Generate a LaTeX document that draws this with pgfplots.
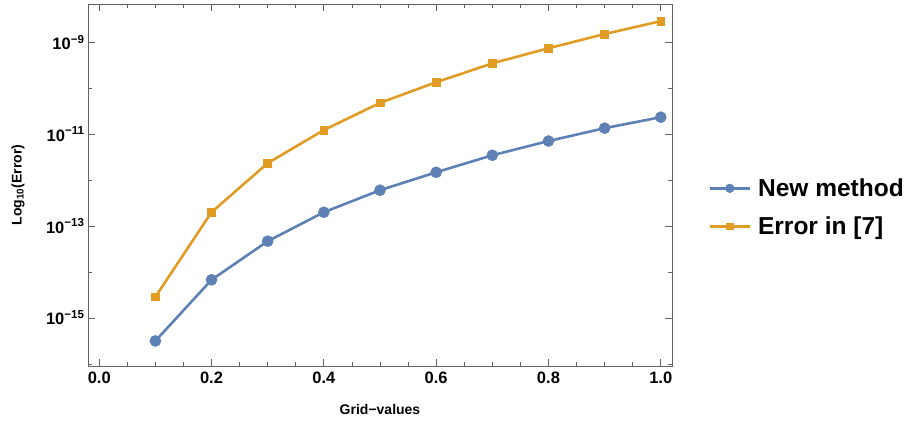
\documentclass[border=0pt]{standalone}
\usepackage{pgfplots}
\pgfplotsset{compat=1.18}
\usepackage{fontspec}
\setmainfont{Liberation Sans}
\definecolor{mblue}{RGB}{94,129,181}
\definecolor{morange}{RGB}{225,156,36}
\definecolor{mframe}{RGB}{100,100,100}
\pgfplotsset{
  mylegend/.style={legend image code/.code={\draw[mark repeat=2, mark phase=2, ##1] plot coordinates {(0pt,0pt) (20pt,0pt) (40pt,0pt)};}}
}
\begin{document}
\begin{tikzpicture}
\useasboundingbox (-88pt,-59pt) rectangle (821pt,366pt);
\begin{axis}[
  at={(0pt,0pt)}, anchor=south west,
  scale only axis, width=584pt, height=362pt,
  xmin=-0.02, xmax=1.02,
  ymode=log, ymin=9.0e-17, ymax=6.8e-9,
  axis line style={mframe, line width=0.8pt},
  every tick/.style={mframe, line width=0.8pt},
  tick align=inside,
  xtick={0,0.2,0.4,0.6,0.8,1.0},
  xticklabels={0.0,0.2,0.4,0.6,0.8,1.0},
  minor xtick={0.05,0.1,0.15,0.25,0.3,0.35,0.45,0.5,0.55,0.65,0.7,0.75,0.85,0.9,0.95},
  ytick={1e-15,1e-13,1e-11,1e-9},
  yticklabels={10\textsuperscript{−15},10\textsuperscript{−13},10\textsuperscript{−11},10\textsuperscript{−9}},
  minor ytick={1e-16,1e-14,1e-12,1e-10},
  major tick length=7pt, minor tick length=4pt,
  tick label style={font=\bfseries\fontsize{16.5}{18}\selectfont, black},
  xticklabel style={yshift=-2pt},
  xlabel={\bfseries Grid−values},
  ylabel={\bfseries Log\textsubscript{10}(Error)},
  label style={font=\fontsize{14}{16}\selectfont},
  xlabel style={at={(axis description cs:0.5,-0.1215)}, anchor=center},
  ylabel style={at={(axis description cs:-0.12,0.5)}, anchor=center},
  legend style={at={(1.057,0.438)}, anchor=west, draw=none, fill=none,
    font=\bfseries\fontsize{24.5}{27}\selectfont, row sep=15pt,
    cells={anchor=west}},
  legend cell align=left,
  mylegend,
  clip=false,
]
\addplot[mblue, line width=2.6pt, mark=*, mark size=5.5pt, mark options={solid, fill=mblue, draw=mblue, line width=0.6pt},
  legend image post style={mark size=4.3pt}]
coordinates {
(0.1,3.16e-16) (0.2,6.76e-15) (0.3,4.68e-14) (0.4,2.0e-13) (0.5,6.03e-13)
(0.6,1.48e-12) (0.7,3.47e-12) (0.8,7.08e-12) (0.9,1.35e-11) (1.0,2.34e-11)
};
\addlegendentry{\hspace{5pt}New method}
\addplot[morange, line width=2.6pt, mark=square*, mark size=3.9pt, mark options={solid, fill=morange, draw=morange, line width=0.6pt},
  legend image post style={mark size=3.1pt}]
coordinates {
(0.1,2.88e-15) (0.2,2.0e-13) (0.3,2.34e-12) (0.4,1.23e-11) (0.5,4.79e-11)
(0.6,1.35e-10) (0.7,3.47e-10) (0.8,7.41e-10) (0.9,1.51e-9) (1.0,2.88e-9)
};
\addlegendentry{\hspace{5pt}Error in [7]}
\end{axis}
\end{tikzpicture}
\end{document}
